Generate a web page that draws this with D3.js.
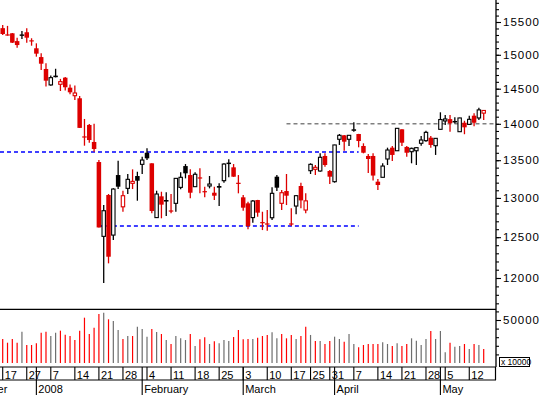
<!DOCTYPE html>
<html>
<head>
<meta charset="utf-8">
<script src="https://cdn.jsdelivr.net/npm/d3@7"></script>
<style>
body{margin:0;background:#fff}
svg{display:block}
text{font-family:Arial,"Liberation Sans",sans-serif}
</style>
</head>
<body>
<div id="chart"></div>
<script>
// trading days (Dec 2007 - May 2008)
var decDays=[3,4,5,6,7,10,11,12,13,14,17,18,19,20,21,27,28]
var janDays=[2,3,4,7,8,9,10,11,14,15,16,17,18,21,22,23,24,25,28,29,30,31]
var febDays=[1,4,5,6,7,8,11,12,13,14,15,18,19,20,21,22,25,26,27,28,29]
var marDays=[3,4,5,6,7,10,11,12,13,14,17,18,19,20,25,26,27,28,31]
var aprDays=[1,2,3,4,7,8,9,10,11,14,15,16,17,18,21,22,23,24,25,28,29,30]
var mayDays=[2,5,6,7,8,9,12,13,14,15]

var firstCandle="2007-12-17"

// daily prices
var open=[15405,15305,15326,15207,15295,15342,15212,15098,14966,14789,
  14555,14691,14564,14661,14515,14399,14362,13820,13984,13748,
  13475,12510,13038,12526,13301,12885,13125,13191,13288,13444,
  13601,13458,12747,13021,12960,12833,12930,13138,13421,13301,
  13147,13265,13084,13156,13068,13156,13226,13455,13404,13194,
  13008,12930,12747,12973,12685,12668,12745,13279,12930,13090,
  12668,12895,13156,12844,13359,13377,13355,13557,13355,13213,
  13785,13840,13785,13910,13858,13693,13557,13557,13213,13271,
  13516,13670,13628,13923,13680,13615,13628,13730,13766,13807,
  13697,13923,14040,14066,14027,13890,14015,13992,14114,14082,14150]
var high=[15455,15440,15330,15259,15361,15403,15250,15173,15022,14874,
  14691,14792,14643,14670,14560,14545,14395,14068,13998,14002,
  13502,12908,13051,13125,13493,13094,13315,13377,13345,13547,
  13661,13460,13094,13081,13073,13051,13262,13337,13448,13377,
  13337,13390,13147,13288,13147,13191,13458,13511,13448,13301,
  13038,12951,12973,12975,12822,12844,13138,13301,13103,13315,
  12866,13038,13200,13060,13458,13435,13593,13593,13368,13710,
  13858,13844,13842,14021,13860,13730,13584,13593,13249,13458,
  13670,13693,13940,13925,13693,13670,13672,13830,13904,13830,
  13800,14162,14124,14124,14091,14085,14043,14114,14148,14225,14190]
var low=[15300,15290,15178,15107,15239,15183,15137,14972,14774,14532,
  14542,14665,14467,14474,14419,14337,13940,13697,13738,13615,
  12620,11941,12177,12464,13116,12822,13051,13116,12964,13315,
  13502,12802,12745,12738,12767,12802,12822,13112,13257,12995,
  13145,13060,13008,13125,12973,12895,13200,13271,13277,13060,
  12835,12598,12682,12758,12589,12580,12716,13090,12844,12908,
  12641,12789,12866,12802,13315,13301,13345,13413,13182,13200,
  13707,13628,13693,13890,13675,13593,13328,13228,13103,13270,
  13435,13489,13625,13693,13548,13458,13435,13697,13752,13670,
  13571,13920,13984,13890,14006,13888,13855,13984,13965,14053,14052]
var close=[15315,15295,15183,15147,15300,15259,15208,15017,14867,14617,
  14661,14668,14603,14521,14448,14438,13943,13814,13775,13652,
  12622,12835,12258,13116,13147,13029,13244,13217,13226,13502,
  13525,12831,13051,12913,12966,12829,13257,13271,13324,13068,
  13311,13259,13078,13182,13029,13134,13448,13460,13279,13188,
  12874,12641,12960,12810,12680,12663,13060,13134,13068,13029,
  12663,13029,12968,12962,13444,13404,13539,13435,13279,13707,
  13840,13752,13840,13916,13761,13601,13516,13294,13169,13421,
  13638,13571,13937,13738,13601,13661,13670,13775,13881,13707,
  13798,14060,14068,14008,14032,14082,13951,14063,14015,14196,14188]
var volume=[27900,23600,27900,23600,36400,20900,20900,22900,35200,36400,
  31400,35200,37600,32900,31400,26700,37600,52700,33700,41000,
  57000,58500,50800,48800,38400,27900,31400,31400,42200,39500,
  30600,39500,36000,33700,26700,22100,31400,28700,26700,33700,
  19800,27500,29800,22100,25200,22900,26700,25600,30200,38400,
  27500,27900,27900,29400,31400,32600,35700,28700,33700,28700,
  32600,27900,31400,42200,32600,25600,25600,22100,25600,30600,
  27900,24800,33700,22100,18200,20900,22100,22100,22100,24000,
  22100,19800,22900,19800,22100,28700,25900,20900,27900,37200,
  27900,37200,12400,23600,19000,19800,22100,16300,22100,20900,16300]

// horizontal levels
var levelValues=[13610,12640,14000]
var levelStart=["2007-12-14","2008-01-21","2008-03-14"]
var levelEnd=["2008-04-08","2008-04-08","2008-05-15"]

// axis ticks
var priceTicks=[12000,12500,13000,13500,14000,14500,15000,15500]
var priceMinorTicks=d3.range(11700,15900,100)
var volumeTicks=[50000]
var volumeMinorTicks=[10000,20000,30000,40000,60000]
var weekTickDates=["2007-12-17","2007-12-27","2008-01-07","2008-01-14","2008-01-21","2008-01-28",
  "2008-02-04","2008-02-11","2008-02-18","2008-02-25","2008-03-03","2008-03-10","2008-03-17",
  "2008-03-25","2008-03-31","2008-04-07","2008-04-14","2008-04-21","2008-04-28","2008-05-05","2008-05-12"]
var weekTickLabels=["17","27","7","14","21","28","4","11","18","25","3","10","17","25","31","7","14","21","28","5","12"]
var monthTickDates=["2007-12-03","2008-01-02","2008-02-01","2008-03-03","2008-04-01","2008-05-02"]
var monthLabels=["December","2008","February","March","April","May"]

var dates=[]
function addDays(y,m,arr){
  arr.forEach(function(d){
    dates.push(y+"-"+(m<10?"0"+m:m)+"-"+(d<10?"0"+d:d))
  })
}
addDays(2007,12,decDays)
addDays(2008,1,janDays)
addDays(2008,2,febDays)
addDays(2008,3,marDays)
addDays(2008,4,aprDays)
addDays(2008,5,mayDays)
var offset=dates.indexOf(firstCandle)

var screen={width:542,height:395}
var right=496
var sep=309.3
var dateTop=367

  // scales
  var xScale=d3.scaleLinear()
      .domain([offset,offset+100])
      .range([2.7,483.7])
  var yScale=d3.scaleLog()
      .domain([12000,15500])
      .range([278,22])
  var vScale=d3.scaleLinear()
      .domain([0,50000])
      .range([363,320])
  function xd(s){return xScale(dates.indexOf(s))}

var red="#dd0000"
var data=close.map(function(c,i){
  var prev= i==0 ? open[0] : close[i-1]
  return {x:xScale(i+offset),o:open[i],h:high[i],l:low[i],c:c,v:volume[i],
    down:c<prev, filled:c<open[i]}
})

var svg=d3.select("#chart").append("svg")
  .attr("width",screen.width)
  .attr("height",screen.height)

svg.append("rect").attr("width",screen.width).attr("height",screen.height).attr("fill","#fff")

// levels
var levelStyle=[{c:"#0000ff"},{c:"#0000ff"},{c:"#808080"}]
levelValues.forEach(function(v,k){
  var x1=Math.max(0,xd(levelStart[k]))
  var x2=k==2 ? right : xd(levelEnd[k])
  svg.append("line")
    .attr("x1",x1).attr("x2",x2)
    .attr("y1",yScale(v)).attr("y2",yScale(v))
    .attr("stroke",levelStyle[k].c)
    .attr("stroke-width",1.4)
    .attr("stroke-dasharray","4,3")
})

// candles
var cg=svg.append("g")
cg.selectAll("line.wick")
  .data(data).enter().append("line")
  .attr("class","wick")
  .attr("x1",function(d){return d.x}).attr("x2",function(d){return d.x})
  .attr("y1",function(d){return yScale(d.h)})
  .attr("y2",function(d){return yScale(d.l)})
  .attr("stroke",function(d){return d.down?red:"#000"})
  .attr("stroke-width",1.3)

cg.selectAll("rect.body")
  .data(data).enter().append("rect")
  .attr("class","body")
  .attr("x",function(d){return d.filled ? d.x-2.25 : d.x-1.7})
  .attr("width",function(d){return d.filled ? 4.5 : 3.4})
  .attr("y",function(d){
    var t=yScale(Math.max(d.o,d.c)), b=yScale(Math.min(d.o,d.c))
    return d.filled && b-t<1.2 ? (t+b)/2-0.6 : t})
  .attr("height",function(d){
    var h=yScale(Math.min(d.o,d.c))-yScale(Math.max(d.o,d.c))
    return d.filled ? Math.max(1.2,h) : Math.max(0.3,h)})
  .attr("fill",function(d){return d.filled ? (d.down?red:"#000") : "#fff"})
  .attr("stroke",function(d){return d.filled ? "none" : (d.down?red:"#000")})
  .attr("stroke-width",1.1)

// volume
svg.selectAll("line.vol")
  .data(data).enter().append("line")
  .attr("class","vol")
  .attr("x1",function(d){return d.x}).attr("x2",function(d){return d.x})
  .attr("y1",vScale(0))
  .attr("y2",function(d){return vScale(d.v)})
  .attr("stroke",function(d){return d.down?"#ff0000":"#6e6e6e"})
  .attr("stroke-width",1.2)

// panel separator + right axis line
svg.append("line").attr("x1",0).attr("x2",right).attr("y1",sep).attr("y2",sep)
  .attr("stroke","#000").attr("stroke-width",1.2)
svg.append("line").attr("x1",right).attr("x2",right).attr("y1",0).attr("y2",dateTop)
  .attr("stroke","#000").attr("stroke-width",1.3)

// price axis
var pAxis=d3.axisRight(yScale).tickValues(priceTicks).tickSize(5).tickPadding(2).tickFormat(d3.format("d"))
var pg=svg.append("g").attr("transform","translate("+right+",0)").call(pAxis)
var pmAxis=d3.axisRight(yScale).tickValues(priceMinorTicks).tickSize(3).tickFormat("")
svg.append("g").attr("transform","translate("+right+",0)").call(pmAxis)

// volume axis
var vAxis=d3.axisRight(vScale).tickValues(volumeTicks).tickSize(5).tickPadding(2).tickFormat(d3.format("d"))
var vg=svg.append("g").attr("transform","translate("+right+",0)").call(vAxis)
var vmAxis=d3.axisRight(vScale).tickValues(volumeMinorTicks).tickSize(3).tickFormat("")
svg.append("g").attr("transform","translate("+right+",0)").call(vmAxis)

svg.selectAll(".domain").remove()
svg.selectAll(".tick line").attr("stroke","#000").attr("stroke-width",1.1)
svg.selectAll(".tick text")
  .attr("fill","#000")
  .style("font-size","11.5px")
  .style("letter-spacing","1px")
  .style("font-family","Arial, 'Liberation Sans', sans-serif")

// x 10000 box
svg.append("rect").attr("x",499.5).attr("y",357.5).attr("width",30).attr("height",9)
  .attr("fill","#fff").attr("stroke","#000").attr("stroke-width",1)
svg.append("text").attr("x",501).attr("y",365).text("x 10000")
  .style("font-size","8.5px")

// date axis
svg.append("line").attr("x1",0).attr("x2",right).attr("y1",dateTop).attr("y2",dateTop)
  .attr("stroke","#000").attr("stroke-width",1.2)
svg.append("line").attr("x1",0).attr("x2",right).attr("y1",380).attr("y2",380)
  .attr("stroke","#000").attr("stroke-width",1.2)
svg.append("line").attr("x1",right-0.5).attr("x2",right-0.5).attr("y1",dateTop).attr("y2",380)
  .attr("stroke","#000").attr("stroke-width",1.2)

weekTickDates.forEach(function(s,k){
  var x=xd(s)
  svg.append("line").attr("x1",x).attr("x2",x).attr("y1",dateTop).attr("y2",380)
    .attr("stroke","#000").attr("stroke-width",1.1)
  svg.append("text").attr("x",x+2).attr("y",378.5).text(weekTickLabels[k])
    .style("font-size","11px")
})
monthTickDates.forEach(function(s,k){
  var x=xd(s)
  svg.append("line").attr("x1",x).attr("x2",x).attr("y1",dateTop).attr("y2",395)
    .attr("stroke","#000").attr("stroke-width",1.1)
  svg.append("text").attr("x",x+2).attr("y",392.5).text(monthLabels[k])
    .style("font-size","11px")
})
</script>
</body>
</html>
